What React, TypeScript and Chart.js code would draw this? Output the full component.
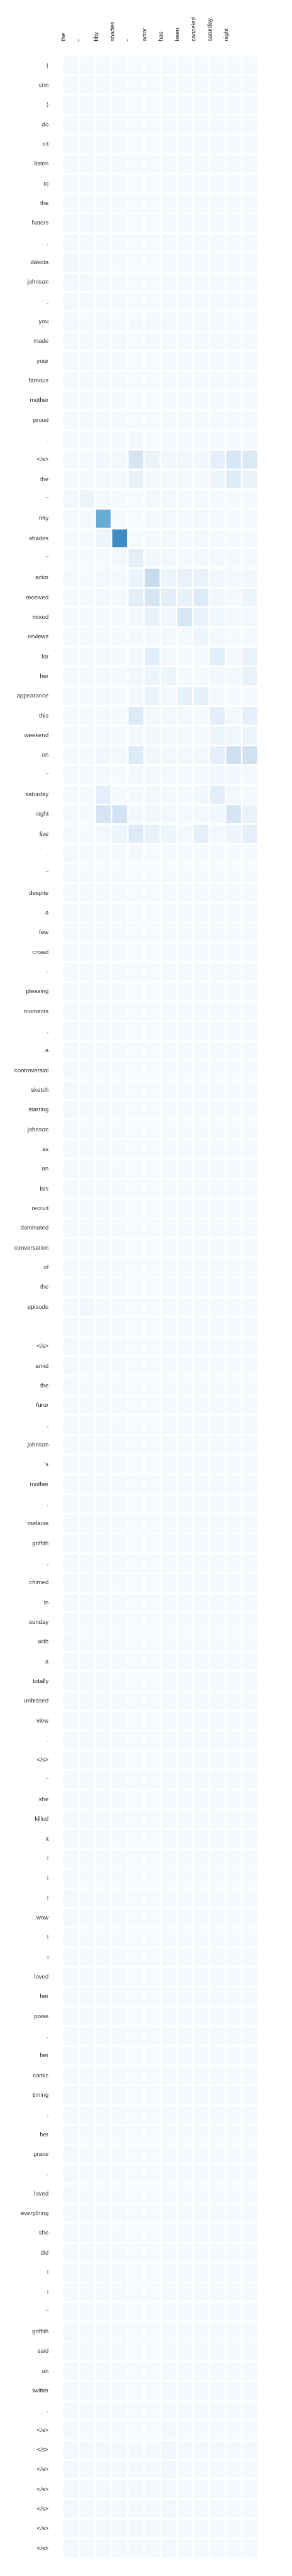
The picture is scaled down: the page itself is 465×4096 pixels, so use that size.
import { useEffect, useRef } from "react";
import { Chart, registerables } from "chart.js";

Chart.register(...registerables);

// Target (summary) tokens — columns
const targetTokens: string[] = ["the", "\"", "fifty", "shades", "\"", "actor", "has", "been", "canceled", "saturday", "night", ""];

// Source (article) tokens — rows
const sourceTokens: string[] = [
  "(", "cnn", ")", "do", "n't", "listen", "to", "the", "haters", ",", "dakota", "johnson", ":",
  "you", "made", "your", "famous", "mother", "proud", ".", "</s>",
  "the", "\"", "fifty", "shades", "\"", "actor", "received", "mixed", "reviews", "for", "her", "appearance",
  "this", "weekend", "on", "\"", "saturday", "night", "live", ".", "\"",
  "despite", "a", "few", "crowd", "-", "pleasing", "moments", ",", "a", "controversial", "sketch",
  "starring", "johnson", "as", "an", "isis", "recruit", "dominated", "conversation", "of", "the", "episode", ".", "</s>",
  "amid", "the", "furor", ",", "johnson", "'s", "mother", ",", "melanie", "griffith", ",", "chimed", "in",
  "sunday", "with", "a", "totally", "unbiased", "view", ".", "</s>",
  "\"", "she", "killed", "it", "!", "!", "!", "wow", "!", "i", "loved", "her", "poise", ",", "her", "comic", "timing", ",",
  "her", "grace", ",", "loved", "everything", "she", "did", "!", "!", "\"", "griffith", "said", "on", "twitter", ".",
  "</s>", "</s>", "</s>", "</s>", "</s>", "</s>", "</s>",
];

// Attention weights: one row per source token, one value per target token
const attention: number[][] = [
  [.015, .01, .01, .01, .01, .01, .01, .01, .01, .01, .01, .01],
  [.015, .01, .01, .01, .01, .01, .01, .01, .01, .01, .01, .01],
  [.015, .01, .01, .01, .01, .01, .01, .01, .01, .01, .01, .01],
  [.015, .01, .01, .01, .01, .01, .01, .01, .01, .01, .01, .01],
  [.015, .01, .01, .01, .01, .01, .01, .01, .01, .01, .01, .01],
  [.015, .01, .01, .01, .01, .01, .01, .015, .01, .01, .01, .01],
  [.015, .01, .01, .01, .01, .01, .01, .01, .01, .01, .01, .01],
  [.015, .01, .01, .01, .01, .01, .01, .01, .01, .01, .01, .01],
  [.015, .02, .01, .01, .01, .01, .01, .01, .01, .01, .01, .01],
  [.015, .01, .01, .01, .01, .01, .01, .01, .01, .01, .01, .01],
  [.035, .015, .01, .01, .01, .01, .01, .01, .01, .01, .01, .01],
  [.02, .015, .01, .01, .01, .01, .01, .01, .01, .01, .01, .01],
  [.015, .01, .01, .01, .01, .01, .01, .01, .01, .01, .01, .01],
  [.02, .01, .015, .01, .015, .015, .015, .015, .015, .015, .01, .015],
  [.015, .01, .01, .015, .01, .015, .01, .01, .015, .01, .01, .01],
  [.015, .01, .01, .01, .01, .01, .01, .01, .01, .01, .01, .01],
  [.015, .01, .01, .01, .01, .01, .01, .01, .01, .01, .01, .01],
  [.015, .01, .01, .01, .01, .01, .01, .01, .01, .01, .01, .01],
  [.015, .01, .01, .01, .01, .01, .01, .01, .01, .01, .01, .01],
  [.015, .01, .01, .01, .015, .01, .01, .01, .01, .01, .01, .01],
  [.015, .01, .03, .025, .17, .06, .03, .04, .03, .09, .16, .14],
  [.01, .01, .015, .015, .07, .025, .02, .02, .015, .055, .12, .07],
  [.02, .05, .015, .01, .01, .02, .02, .015, .015, .015, .01, .01],
  [.015, .015, .51, .01, .01, .015, .02, .015, .025, .015, .01, .01],
  [.01, .01, .05, .64, .01, .015, .02, .015, .025, .015, .01, .01],
  [.01, .01, .01, .025, .10, .03, .02, .015, .02, .025, .015, .015],
  [.015, .01, .02, .015, .06, .24, .05, .07, .07, .03, .02, .03],
  [.015, .01, .02, .015, .10, .17, .10, .08, .13, .03, .015, .05],
  [.015, .01, .01, .01, .015, .07, .03, .15, .07, .035, .015, .02],
  [.015, .01, .01, .01, .015, .015, .015, .015, .05, .02, .01, .015],
  [.015, .01, .015, .01, .035, .11, .02, .015, .015, .11, .015, .07],
  [.015, .01, .015, .01, .035, .05, .05, .015, .015, .035, .025, .07],
  [.015, .01, .015, .01, .015, .06, .025, .08, .08, .015, .01, .015],
  [.015, .01, .015, .01, .13, .025, .02, .02, .015, .10, .02, .09],
  [.015, .01, .025, .01, .025, .035, .02, .02, .015, .05, .04, .05],
  [.015, .01, .03, .025, .13, .035, .02, .02, .02, .09, .21, .20],
  [.015, .01, .015, .01, .015, .015, .015, .015, .015, .035, .035, .015],
  [.015, .01, .09, .01, .015, .02, .015, .015, .035, .10, .02, .015],
  [.015, .01, .17, .19, .025, .035, .02, .015, .02, .035, .17, .07],
  [.015, .01, .025, .05, .13, .08, .05, .02, .09, .025, .05, .09],
  [.015, .01, .01, .01, .015, .01, .01, .01, .01, .01, .01, .01],
  [.015, .01, .01, .01, .01, .01, .01, .01, .01, .01, .01, .01],
  [.015, .01, .01, .01, .01, .01, .01, .01, .01, .01, .01, .01],
  [.015, .01, .01, .01, .01, .01, .01, .01, .01, .01, .01, .01],
  [.015, .01, .01, .01, .01, .01, .01, .01, .01, .01, .01, .01],
  [.015, .01, .01, .01, .01, .01, .01, .01, .01, .01, .01, .01],
  [.015, .01, .01, .01, .01, .01, .01, .01, .01, .01, .01, .01],
  [.015, .01, .01, .01, .01, .01, .01, .01, .01, .01, .01, .01],
  [.015, .01, .01, .01, .01, .01, .01, .01, .01, .01, .01, .01],
  [.015, .01, .01, .01, .01, .01, .01, .01, .01, .01, .01, .01],
  [.015, .01, .01, .01, .01, .01, .01, .01, .01, .01, .01, .01],
  [.015, .01, .01, .01, .01, .01, .01, .01, .01, .01, .01, .01],
  [.015, .01, .01, .01, .01, .01, .01, .01, .01, .01, .01, .01],
  [.015, .01, .01, .01, .01, .01, .01, .01, .01, .01, .01, .01],
  [.015, .01, .01, .01, .01, .01, .01, .01, .01, .01, .01, .01],
  [.015, .01, .01, .01, .01, .01, .01, .01, .01, .01, .01, .01],
  [.015, .01, .01, .01, .01, .01, .01, .01, .01, .01, .01, .01],
  [.015, .01, .01, .01, .01, .01, .01, .01, .01, .01, .01, .01],
  [.015, .01, .01, .01, .01, .01, .01, .01, .01, .01, .01, .01],
  [.015, .01, .01, .01, .01, .01, .01, .01, .01, .01, .01, .01],
  [.015, .01, .01, .01, .01, .01, .01, .01, .01, .01, .01, .01],
  [.015, .01, .01, .01, .01, .01, .01, .01, .01, .01, .01, .01],
  [.015, .01, .01, .01, .01, .01, .01, .01, .01, .01, .01, .01],
  [.015, .03, .01, .01, .01, .01, .01, .01, .01, .01, .01, .01],
  [.015, .01, .01, .01, .01, .01, .01, .01, .01, .01, .01, .01],
  [.015, .01, .01, .01, .01, .01, .01, .01, .01, .01, .01, .01],
  [.015, .01, .01, .01, .01, .01, .01, .01, .01, .01, .01, .01],
  [.015, .01, .01, .01, .01, .01, .01, .01, .01, .01, .01, .01],
  [.015, .01, .01, .01, .01, .01, .01, .01, .01, .01, .01, .01],
  [.015, .01, .01, .01, .01, .01, .01, .01, .01, .01, .01, .01],
  [.015, .01, .01, .01, .01, .01, .01, .01, .01, .01, .01, .01],
  [.015, .01, .01, .01, .01, .01, .01, .01, .01, .01, .01, .01],
  [.015, .01, .01, .01, .01, .01, .01, .01, .01, .01, .01, .01],
  [.015, .01, .01, .01, .01, .01, .01, .01, .01, .01, .01, .01],
  [.015, .01, .01, .01, .01, .01, .01, .01, .01, .01, .01, .01],
  [.015, .01, .01, .01, .01, .01, .01, .01, .01, .01, .01, .01],
  [.015, .01, .01, .01, .01, .01, .01, .01, .01, .01, .01, .01],
  [.015, .01, .01, .01, .01, .01, .01, .01, .01, .01, .01, .01],
  [.015, .01, .01, .01, .01, .01, .01, .01, .01, .01, .01, .01],
  [.015, .01, .01, .01, .01, .01, .01, .01, .01, .01, .01, .01],
  [.015, .01, .01, .01, .01, .01, .01, .01, .01, .01, .01, .01],
  [.015, .01, .01, .01, .01, .01, .01, .01, .01, .01, .01, .01],
  [.015, .01, .01, .01, .01, .01, .01, .01, .01, .01, .01, .01],
  [.015, .01, .01, .01, .01, .01, .01, .01, .01, .01, .01, .01],
  [.015, .01, .01, .01, .01, .01, .01, .01, .01, .01, .01, .01],
  [.015, .01, .01, .01, .01, .01, .01, .01, .01, .01, .01, .01],
  [.015, .01, .01, .01, .01, .01, .01, .01, .01, .01, .01, .01],
  [.015, .01, .01, .01, .01, .01, .01, .01, .01, .01, .01, .01],
  [.015, .01, .01, .01, .01, .01, .01, .01, .01, .01, .01, .01],
  [.015, .01, .01, .01, .01, .01, .01, .01, .01, .01, .01, .01],
  [.015, .01, .01, .01, .01, .01, .01, .01, .01, .01, .01, .01],
  [.015, .01, .01, .01, .01, .01, .01, .01, .01, .01, .01, .01],
  [.015, .01, .01, .01, .01, .01, .01, .01, .01, .01, .01, .01],
  [.015, .01, .01, .01, .01, .01, .01, .01, .01, .01, .01, .01],
  [.015, .01, .01, .01, .01, .01, .01, .01, .01, .01, .01, .01],
  [.015, .01, .01, .01, .01, .01, .01, .01, .01, .01, .01, .01],
  [.015, .01, .01, .01, .01, .01, .01, .01, .01, .01, .01, .01],
  [.015, .01, .01, .01, .01, .01, .01, .01, .01, .01, .01, .01],
  [.015, .01, .01, .01, .01, .01, .01, .01, .01, .01, .01, .01],
  [.015, .01, .01, .01, .01, .01, .01, .01, .01, .01, .01, .01],
  [.015, .01, .01, .01, .01, .01, .01, .01, .01, .01, .01, .01],
  [.015, .01, .01, .01, .01, .01, .01, .01, .01, .01, .01, .01],
  [.015, .01, .01, .01, .01, .01, .01, .01, .01, .01, .01, .01],
  [.015, .01, .01, .01, .01, .01, .01, .01, .01, .01, .01, .01],
  [.015, .01, .01, .01, .01, .01, .01, .01, .01, .01, .01, .01],
  [.015, .01, .01, .01, .01, .01, .01, .01, .01, .01, .01, .01],
  [.015, .01, .01, .01, .01, .01, .01, .01, .01, .01, .01, .01],
  [.015, .01, .01, .01, .01, .01, .01, .01, .01, .01, .01, .01],
  [.015, .01, .01, .01, .01, .01, .01, .01, .01, .01, .01, .01],
  [.015, .01, .01, .01, .01, .01, .01, .01, .01, .01, .01, .01],
  [.015, .01, .01, .01, .01, .01, .01, .01, .01, .01, .01, .01],
  [.015, .01, .01, .01, .01, .01, .01, .01, .01, .01, .01, .01],
  [.015, .01, .01, .01, .01, .01, .01, .01, .01, .01, .01, .01],
  [.015, .01, .01, .01, .01, .01, .01, .01, .01, .01, .01, .01],
  [.015, .01, .01, .01, .01, .01, .01, .01, .01, .01, .01, .01],
  [.015, .01, .01, .01, .01, .01, .01, .01, .01, .01, .01, .01],
  [.015, .01, .01, .01, .01, .01, .01, .01, .01, .01, .01, .01],
  [.015, .01, .01, .01, .01, .01, .01, .01, .01, .01, .01, .01],
  [.015, .01, .01, .01, .01, .01, .01, .01, .01, .01, .01, .01],
  [.015, .01, .01, .01, .01, .01, .01, .01, .01, .01, .01, .01],
  [.015, .01, .01, .01, .01, .01, .015, .01, .01, .01, .01, .01],
  [.02, .015, .015, .015, .015, .015, .03, .015, .015, .015, .015, .015],
  [.02, .015, .015, .015, .015, .015, .03, .015, .015, .015, .015, .015],
  [.02, .015, .015, .015, .015, .015, .025, .015, .015, .015, .015, .015],
  [.02, .015, .015, .015, .015, .015, .025, .015, .015, .015, .015, .015],
  [.02, .015, .015, .015, .015, .015, .025, .015, .015, .015, .015, .015],
  [.02, .015, .015, .015, .015, .015, .025, .015, .015, .015, .015, .015],
  [.02, .015, .015, .015, .015, .015, .025, .015, .015, .015, .015, .015],
];

// matplotlib "Blues" colormap stops
const BLUES: string[] = ["#f7fbff", "#deebf7", "#c6dbef", "#9ecae1", "#6baed6", "#4292c6", "#2171b5", "#08519c", "#08306b"];

function hexToRgb(h: string): number[] {
  return [parseInt(h.slice(1, 3), 16), parseInt(h.slice(3, 5), 16), parseInt(h.slice(5, 7), 16)];
}

function blues(v: number): string {
  const t = Math.max(0, Math.min(1, v)) * (BLUES.length - 1);
  const i = Math.min(BLUES.length - 2, Math.floor(t));
  const f = t - i;
  const a = hexToRgb(BLUES[i]);
  const b = hexToRgb(BLUES[i + 1]);
  const c = a.map((x, k) => Math.round(x + (b[k] - x) * f));
  return `rgb(${c[0]},${c[1]},${c[2]})`;
}

const W = 465;
const H = 4096;
const S = 0.829;
const CELL = 1; // each heatmap cell spans one unit on the value axis

export default function App() {
  const ref = useRef<HTMLCanvasElement | null>(null);

  useEffect(() => {
    if (!ref.current) return;
    const font = { family: "'Liberation Sans', Arial, sans-serif", size: 11.6 * S };
    const datasets = targetTokens.map((tok, j) => ({
      label: tok,
      data: sourceTokens.map(() => CELL),
      backgroundColor: (ctx: any) => blues(attention[ctx.dataIndex]?.[j] ?? 0),
      borderColor: "#ffffff",
      borderWidth: { left: 1.25, right: 1.25, top: 0, bottom: 0 },
      borderSkipped: false,
      categoryPercentage: 1,
      barPercentage: 0.926,
    }));

    const chart = new Chart(ref.current, {
      type: "bar",
      data: { labels: sourceTokens, datasets },
      options: {
        indexAxis: "y",
        animation: false,
        responsive: false,
        devicePixelRatio: 1,
        layout: { padding: { left: 0, top: 0, right: 54.1, bottom: 27.8 } },
        plugins: { legend: { display: false }, tooltip: { enabled: false } },
        scales: {
          x: {
            type: "linear",
            stacked: true,
            min: 0,
            max: targetTokens.length,
            display: false,
          },
          xTop: {
            type: "category",
            axis: "x",
            position: "top",
            labels: targetTokens,
            offset: true,
            grid: { display: false, drawTicks: false },
            border: { display: false },
            ticks: {
              autoSkip: false,
              minRotation: 90,
              maxRotation: 90,
              padding: 22.7,
              color: "#262626",
              font,
            },
            afterFit: (scale: any) => {
              scale.height = 88.4;
            },
          },
          y: {
            type: "category",
            stacked: true,
            offset: true,
            grid: { display: false, drawTicks: false },
            border: { display: false },
            ticks: {
              autoSkip: false,
              padding: 22.5,
              color: "#262626",
              font,
            },
            afterFit: (scale: any) => {
              scale.width = 99.8;
            },
          },
        },
      },
    } as any);

    return () => chart.destroy();
  }, []);

  return (
    <div style={{ position: "absolute", left: 0, top: 0, width: W, height: H, background: "#ffffff" }}>
      <canvas ref={ref} width={W} height={H} style={{ display: "block", width: W, height: H }} />
    </div>
  );
}
